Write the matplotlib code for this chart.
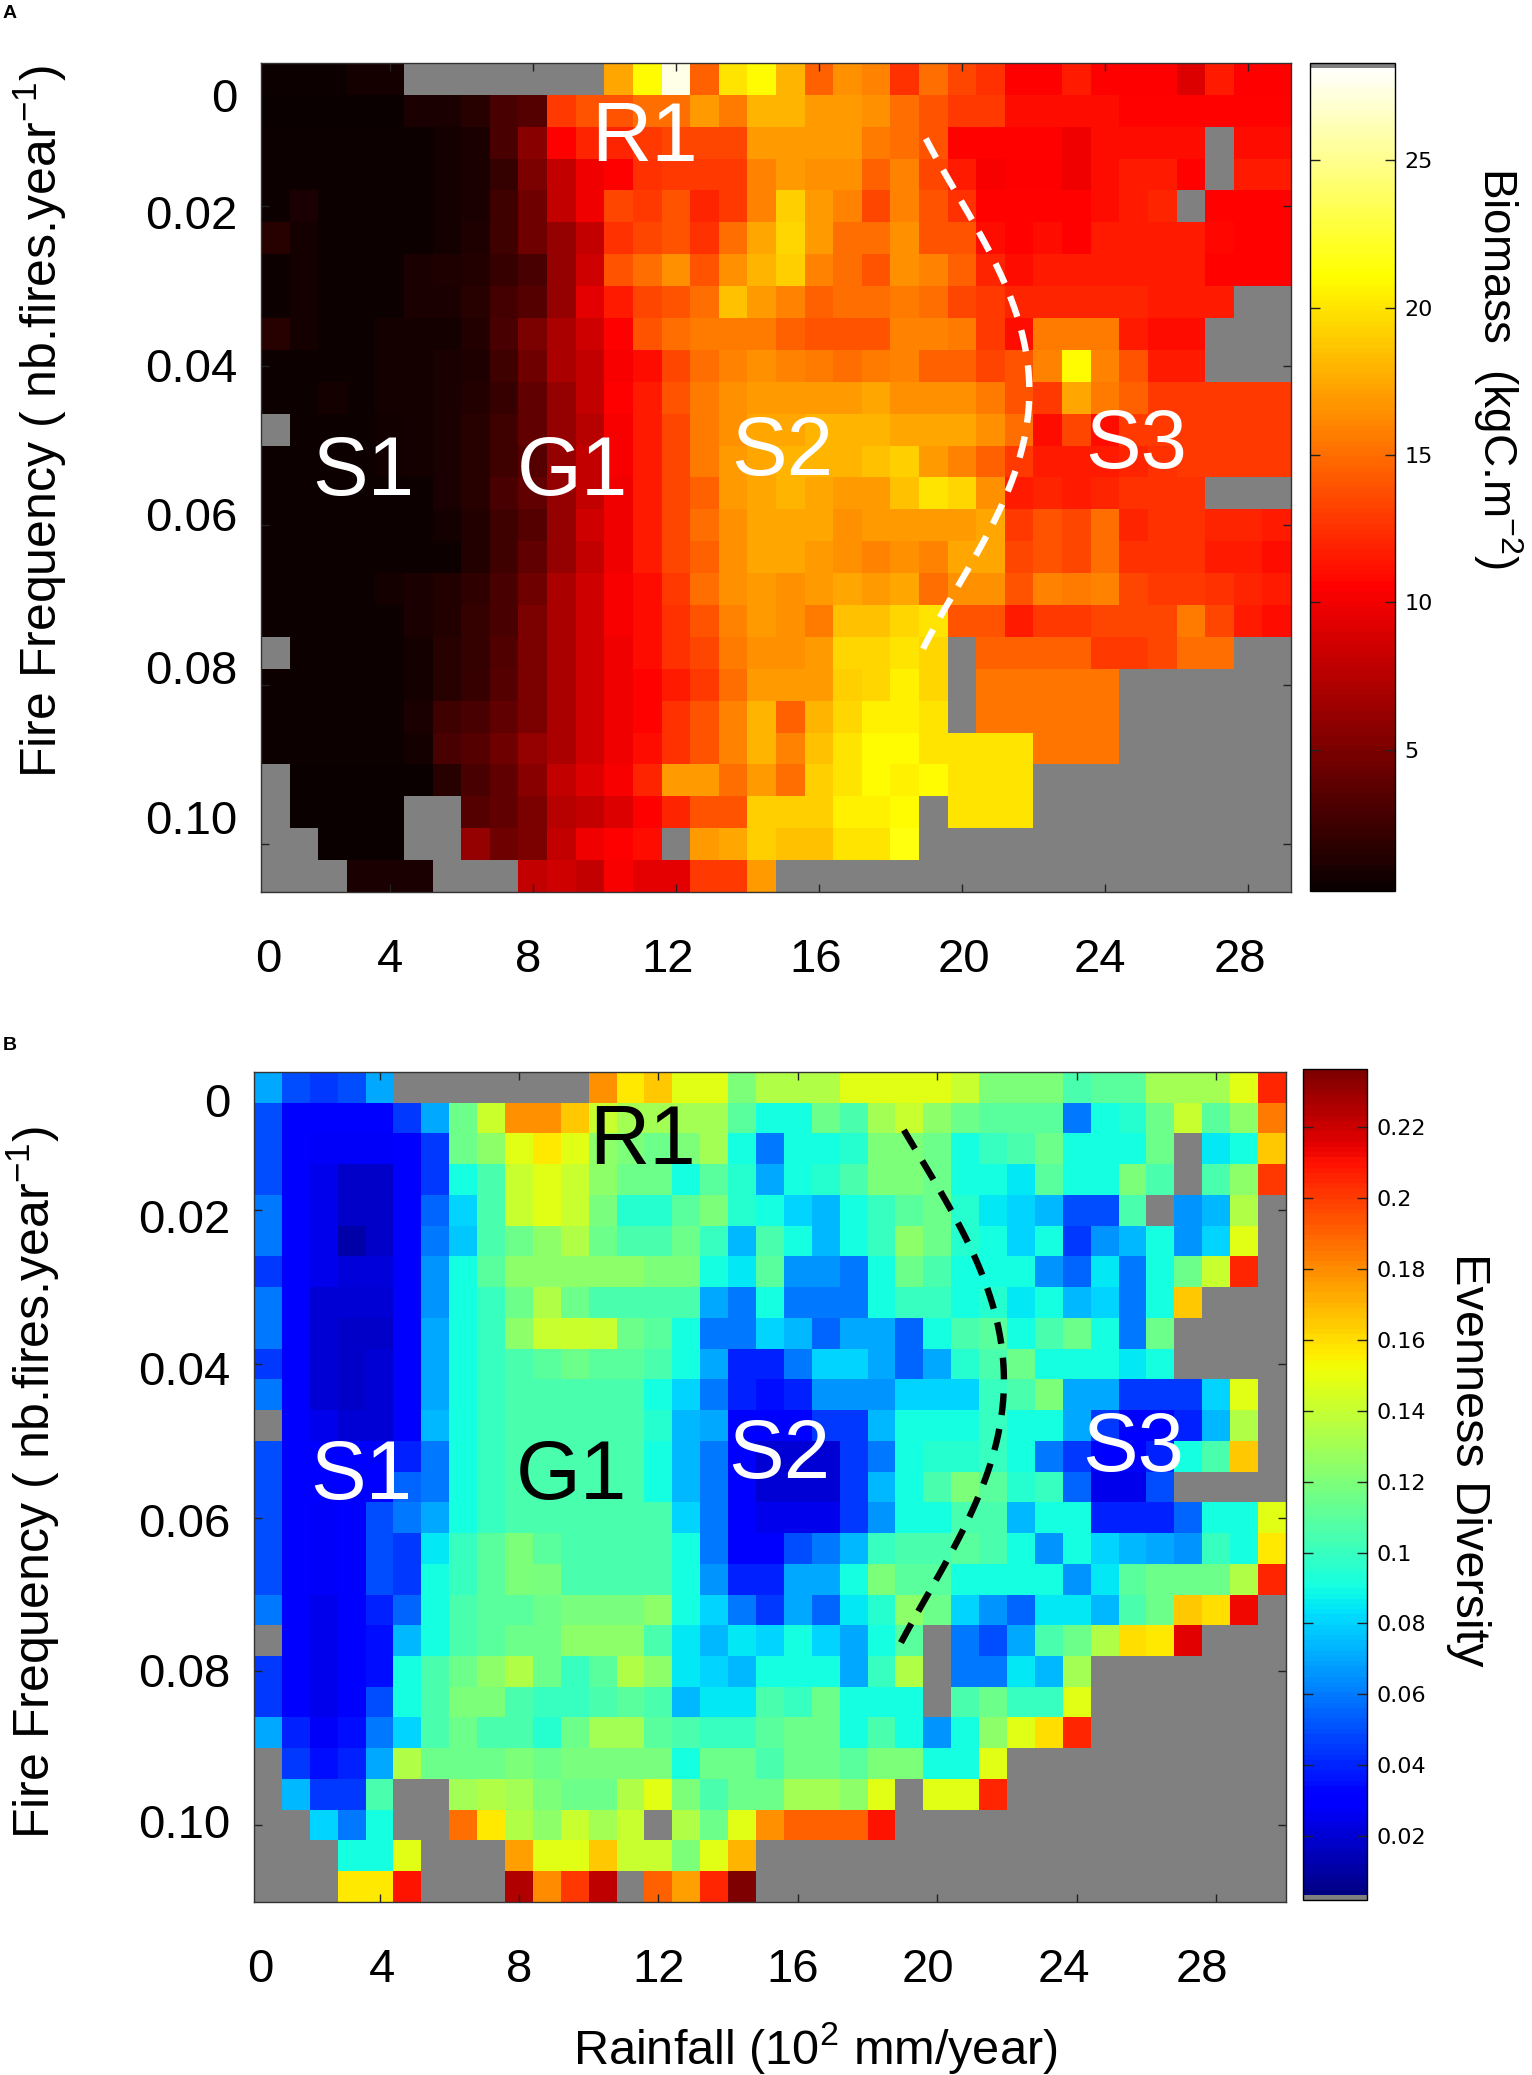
import numpy as np
import matplotlib
matplotlib.use("Agg")
import matplotlib.pyplot as plt
from matplotlib.colors import ListedColormap

plt.rcParams['font.family'] = ['Liberation Sans', 'DejaVu Sans']
plt.rcParams['mathtext.default'] = 'regular'

g = np.nan  # no data, drawn grey

biomass = [
    [.5,.5,.5,.9,.9,g,g,g,g,g,g,g,17.5, 21,27.5,14.5,20,21,18,14.5,16.5,16,12.5,15,13.5,12.5, 10.5,10.5,11.5,10.5,10.5,10.5,9,11.5,10.5,10.5],
    [.3,.3,.3,.3,.3,1,1,1.5,3,3.5,13,14,14, 15,15,17,15.5,18,18,17,17,16.5,15,14,13,13, 11,11,11,11,10.6,10.6,10.6,10.6,10.6,10.6],
    [.4,.4,.4,.4,.5,.5,.8,1,3,5.5,10.5,12,12, 13,13.5,13.5,13.5,17,17,17,17,15.5,15,14,10.6,10.6, 10.6,10.6,10,11,11,11,11,g,11,11],
    [.4,.4,.4,.4,.5,.5,.8,1,2,5,8,10,10.5, 12.5,13,13,13,16,17,16.5,16.5,14.5,16,13.5,11.5,10.3, 10.5,10.5,10,11,11.5,11.5,10.6,g,11.5,11.5],
    [.5,1,.5,.5,.5,.5,.8,1,2.5,4.5,8,10,13.5, 13,14,12,13,16,19,17,16,13.5,16,14,12.5,10.6, 10.6,10.6,10.6,11,11.5,12,g,10.6,10.6,10.6],
    [1.5,.8,.4,.4,.4,.5,.8,1.2,2.5,4.5,6,8,12.5, 13.5,14,12.5,15,17.5,19.5,17,15,15,16.5,14,14,11, 10.6,11,10.5,11.5,11.5,11.5,11.5,10.8,10.6,10.6],
    [.4,.8,.4,.4,.4,1,1.2,1.3,2.3,3,6,8.5,14, 15,16.5,14,16.5,18,19,16,15,14,16.5,16,14.5,12, 11,11.5,11.5,11.5,11.5,11.5,11.5,10.6,10.6,10.6],
    [.4,.8,.4,.4,.5,1,1,1.5,2.8,3.5,6,9.5,11.5, 13.5,14,15,18.5,17,16,14.5,15,15,15.5,15,13.5,13, 12,12,12,12,12,11.5,11.5,11.5,g,g],
    [1.5,.8,.4,.5,.8,.8,.8,1.3,3,5,7,8.5,10.5, 14,15,15.5,15.5,15.5,14.5,14,14,14,16,16,15.5,13, 11,15.5,15.5,15.5,11.5,11,11,g,g,g],
    [.5,.5,.4,.5,.8,.8,1,1.2,2.5,4.5,7,8,10.3, 11,13.5,15,16,16.5,16,15.5,15,15.5,16,14.5,14.5,13.3, 14,16,21,16,14,11.5,11.5,g,g,g],
    [.5,.5,.9,.5,.8,.8,1,1.4,2.3,4,6,8,10.5, 11.5,14,15.5,16.5,17,17,17,17,17.5,16.5,16.5,16.5,15.5, 14,13,17.5,15.5,14.5,13,13,13,13,13],
    [g,.5,.5,.5,.7,.8,1,1.5,2.5,4,6,7.5,10.3, 11.5,13.5,15.5,16.5,17.5,17.5,18,18,18,17.5,17.5,17.5,16.5, 15,11,13.5,11,13,13,13,13,13,13],
    [.4,.4,.4,.4,.6,.8,1,1.5,2.5,3.5,6,8,10.3, 11.5,13.5,15.5,17,17.5,18,18,18,18.5,19,17,16,14.5, 13,11.5,11.5,11.5,12,12.5,13,13,13,13],
    [.4,.4,.4,.4,.4,.5,1,1.5,3,4,6,8,10, 11.5,13.5,14.5,17,17.5,18,17.5,17,17,18.5,20,19.5,16.5, 11.5,12,11.5,12,12.5,12.5,12.5,g,g,g],
    [.4,.4,.4,.4,.4,.4,.8,1.3,2.5,3.5,6,8.5,10, 11.5,13.5,15,16.5,17.5,17.5,17.5,16.5,17,17,17,17,17.5, 13,14,13.5,15,12,12.5,12.5,12,12,11.5],
    [.5,.5,.5,.5,.5,.5,.5,1.3,2.5,4,6,8,10, 11.5,13.5,14.5,16.5,17.5,17.5,17,16.5,16,16.5,16,17.5,17.5, 13.5,14,13.5,15,12.5,12.5,12.5,11.5,11.5,11],
    [.4,.4,.4,.4,.8,1,1.3,1.8,3,4.5,7,8.5,10.3, 11,13,15,16.5,17,16.5,17,17.5,17,17.5,15,16.5,16.5, 14,16,15.5,16,13.5,13,13,12.5,12,11.5],
    [.4,.4,.4,.4,.4,1,1.3,2,3,5,7,8.5,10.3, 11,12.5,14,16,17,16.5,15.5,18.5,18.5,19.5,20,14,14, 11.5,13,13,13.5,13.5,13.5,15.5,13.5,11.5,11],
    [g,.4,.4,.4,.5,.8,1.5,2,3.2,5,7,8.5,10, 11,12.5,13.5,15.5,16.5,16.5,17,19.5,19.5,20,19.5,g,14.5, 14.5,14.5,14.5,13,13,13.5,15,15,g,g],
    [.4,.4,.4,.4,.5,.8,1.5,2.2,3.5,5,7,8.5,10, 10.6,11.5,13,15,17,17,17,19,19.5,20.5,19.5,g,15.4, 15.4,15.4,15.4,15.4,g,g,g,g,g,g],
    [.4,.4,.4,.4,.4,1,2.5,3,4,5,7,8.5,10, 10.6,12.5,14,16,18,14.5,18,19.5,20.5,20.5,20,g,15.4, 15.4,15.4,15.4,15.4,g,g,g,g,g,g],
    [.4,.4,.4,.4,.5,.8,3,3.5,4.5,6,7,8.5,10, 11,12.5,14,16,18,16,18.5,20,21,21,20,20,20, 20,15.4,15.4,15.4,g,g,g,g,g,g],
    [g,.3,.3,.3,.3,.3,1.5,3,4,5.5,8,9,10.3, 12,17,17,15,17,15,19,20,21,20.5,21,20,20, 20,g,g,g,g,g,g,g,g,g],
    [g,.2,.2,.2,.2,g,g,3.5,4,5,7.5,8,9, 10.5,12,14,14,19,19,19,20.5,20.5,21,g,20,20, 20,g,g,g,g,g,g,g,g,g],
    [g,g,.2,.2,.2,g,g,6,4.5,5,8,10,10.5, 11,g,17,17.5,19,18.5,18.5,20,20,21.5,g,g,g, g,g,g,g,g,g,g,g,g,g],
    [g,g,g,1,1,1,g,g,g,8,8.5,8,10.3, 9.5,9.5,13,13,17,g,g,g,g,g,g,g,g, g,g,g,g,g,g,g,g,g,g],
]

evenness = [
    [.07,.05,.045,.05,.07,g,g,g,g,g,g,g,.178,.157,.165,.148,.148,.12,.135,.135,.135,.148,.148,.148,.148,.14,.12,.12,.12,.105,.11,.11,.13,.13,.13,.148,.205],
    [.05,.03,.03,.03,.03,.045,.07,.115,.142,.178,.178,.165,.14,.13,.13,.13,.13,.11,.09,.09,.115,.105,.13,.14,.125,.115,.11,.11,.11,.06,.09,.095,.115,.14,.11,.125,.185],
    [.05,.03,.028,.028,.028,.03,.045,.115,.125,.148,.157,.148,.125,.12,.115,.12,.13,.09,.06,.09,.09,.095,.12,.12,.115,.09,.1,.105,.115,.09,.09,.09,.115,g,.085,.09,.165],
    [.05,.03,.025,.018,.018,.03,.045,.09,.105,.14,.148,.14,.125,.115,.115,.09,.11,.095,.07,.09,.095,.105,.12,.12,.115,.09,.09,.085,.11,.09,.09,.12,.105,g,.105,.125,.2],
    [.06,.03,.025,.018,.018,.03,.055,.08,.105,.14,.148,.14,.118,.095,.095,.11,.12,.095,.09,.08,.075,.09,.1,.11,.115,.095,.085,.08,.075,.05,.05,.105,g,.065,.075,.135,g],
    [.06,.03,.025,.012,.018,.03,.06,.078,.105,.115,.125,.135,.115,.105,.105,.115,.1,.075,.105,.09,.075,.09,.1,.125,.115,.095,.09,.08,.09,.045,.065,.075,.09,.065,.08,.148,g],
    [.045,.03,.025,.022,.022,.03,.065,.09,.11,.125,.125,.125,.125,.125,.12,.12,.09,.085,.11,.065,.065,.06,.09,.115,.105,.09,.09,.09,.065,.055,.085,.06,.09,.115,.14,.205,g],
    [.06,.03,.02,.02,.02,.03,.065,.09,.1,.115,.135,.115,.105,.105,.105,.105,.07,.06,.09,.06,.06,.06,.09,.1,.1,.09,.095,.085,.09,.075,.08,.06,.09,.165,g,g,g],
    [.06,.03,.02,.018,.018,.03,.07,.09,.1,.125,.14,.142,.14,.115,.11,.09,.06,.06,.08,.075,.055,.07,.07,.055,.09,.105,.11,.09,.105,.115,.09,.06,.115,g,g,g,g],
    [.045,.03,.02,.018,.02,.03,.07,.09,.1,.105,.11,.115,.11,.11,.105,.09,.07,.04,.04,.06,.08,.08,.07,.055,.07,.095,.105,.115,.09,.09,.09,.085,.09,g,g,g,g],
    [.06,.03,.02,.018,.02,.03,.07,.09,.1,.105,.105,.105,.105,.105,.09,.08,.06,.04,.035,.04,.065,.065,.065,.08,.08,.08,.1,.105,.12,.07,.07,.045,.045,.045,.08,.148,g],
    [g,.03,.025,.02,.02,.03,.075,.09,.1,.105,.105,.105,.105,.105,.095,.075,.07,.03,.03,.03,.045,.045,.075,.09,.09,.09,.1,.09,.09,.07,.045,.03,.03,.04,.075,.135,g],
    [.05,.03,.03,.03,.03,.04,.06,.09,.1,.105,.105,.105,.105,.105,.09,.075,.06,.03,.02,.02,.02,.045,.06,.09,.095,.095,.1,.09,.06,.045,.03,.03,.04,.09,.105,.165,g],
    [.05,.03,.03,.03,.03,.055,.06,.09,.1,.105,.105,.105,.105,.105,.09,.075,.06,.03,.02,.02,.02,.045,.075,.09,.105,.12,.11,.095,.1,.055,.025,.025,.05,g,g,g,g],
    [.05,.03,.028,.03,.05,.06,.07,.09,.1,.105,.105,.105,.105,.105,.105,.08,.06,.03,.025,.025,.025,.045,.065,.09,.09,.105,.105,.075,.09,.09,.04,.04,.04,.055,.09,.09,.148],
    [.05,.03,.028,.03,.05,.045,.085,.1,.11,.12,.11,.105,.105,.105,.105,.09,.06,.032,.03,.05,.06,.075,.1,.105,.105,.11,.105,.09,.065,.09,.08,.075,.07,.065,.1,.09,.157],
    [.05,.03,.028,.03,.05,.045,.09,.1,.11,.12,.118,.105,.105,.105,.105,.09,.065,.04,.04,.07,.07,.09,.12,.11,.11,.09,.09,.09,.09,.065,.085,.11,.115,.115,.115,.135,.205],
    [.06,.03,.025,.03,.04,.055,.09,.105,.11,.11,.115,.118,.118,.118,.125,.09,.08,.06,.045,.07,.055,.085,.095,.125,.115,.08,.065,.055,.085,.085,.075,.105,.115,.165,.16,.212,g],
    [g,.03,.025,.03,.035,.075,.09,.105,.11,.115,.115,.125,.125,.125,.105,.085,.075,.085,.08,.09,.08,.07,.09,.11,g,.06,.05,.07,.105,.115,.135,.16,.157,.215,g,g,g],
    [.045,.03,.025,.03,.035,.09,.105,.115,.125,.135,.115,.1,.11,.135,.125,.085,.08,.075,.09,.09,.09,.07,.1,.135,g,.06,.06,.085,.075,.13,g,g,g,g,g,g,g],
    [.045,.03,.025,.03,.05,.09,.105,.12,.12,.105,.1,.1,.105,.11,.105,.075,.085,.085,.105,.1,.115,.09,.09,.09,g,.105,.115,.1,.1,.148,g,g,g,g,g,g,g],
    [.07,.04,.028,.035,.06,.08,.105,.115,.105,.105,.095,.115,.13,.13,.11,.105,.1,.1,.11,.115,.115,.09,.105,.09,.065,.09,.125,.148,.16,.205,g,g,g,g,g,g,g],
    [g,.045,.035,.04,.07,.135,.115,.115,.115,.12,.115,.118,.118,.118,.118,.09,.115,.115,.105,.115,.115,.11,.12,.12,.09,.09,.148,g,g,g,g,g,g,g,g,g,g],
    [g,.075,.045,.045,.105,g,g,.13,.135,.13,.12,.115,.115,.135,.148,.12,.105,.115,.115,.13,.13,.125,.148,g,.148,.148,.205,g,g,g,g,g,g,g,g,g,g],
    [g,g,.08,.06,.09,g,g,.187,.157,.135,.125,.14,.13,.14,g,.135,.115,.148,.178,.19,.19,.19,.21,g,g,g,g,g,g,g,g,g,g,g,g,g,g],
    [g,g,g,.09,.09,.148,g,g,g,.175,.148,.148,.165,.14,.14,.12,.148,.17,g,g,g,g,g,g,g,g,g,g,g,g,g,g,g,g,g,g,g],
    [g,g,g,.157,.157,.21,g,g,g,.225,.18,.2,.222,g,.19,.175,.205,.236,g,g,g,g,g,g,g,g,g,g,g,g,g,g,g,g,g,g,g],
]

x_labels = ['0', '4', '8', '12', '16', '20', '24', '28']
y_labels = ['0', '0.02', '0.04', '0.06', '0.08', '0.10']
tick_cols = [4, 9, 14, 19, 24, 29, 34]
tick_rows = [4, 9, 14, 19, 24]

# the labels were placed by hand in the source figure, they sit off the ticks
x_pos_a = [-0.26, 4.0, 8.83, 13.7, 18.87, 24.07, 28.83, 33.7]
y_pos_a = [0.49, 4.16, 8.96, 13.66, 18.43, 23.16]
x_pos_b = [-0.26, 4.1, 9.02, 14.0, 18.8, 23.68, 28.55, 33.5]
y_pos_b = [0.42, 4.19, 9.12, 14.06, 18.96, 23.87]

# dashed boundary between the savanna states (row, column)
curve_rows_a = [1.87, 4.9, 7.0, 9.5, 11.1, 12.55, 15.1, 17.4, 18.0]
curve_cols_a = [22.75, 24.6, 25.8, 26.4, 26.2, 25.7, 24.4, 23.0, 22.5]
curve_rows_b = [1.39, 4.15, 6.7, 9.4, 10.9, 13.7, 15.9, 18.2]
curve_cols_b = [22.8, 24.6, 25.8, 26.46, 26.26, 25.2, 24.1, 22.6]

biomass_ticks = [5, 10, 15, 20, 25]
evenness_ticks = [0.02, 0.04, 0.06, 0.08, 0.1, 0.12, 0.14, 0.16, 0.18, 0.2, 0.22]
evenness_ticklabels = ['0.02', '0.04', '0.06', '0.08', '0.1', '0.12', '0.14', '0.16', '0.18', '0.2', '0.22']

W, H = 1532, 2075
GREY = '#808080'


def box(left, top, right, bottom):
    return [left / W, 1 - bottom / H, (right - left) / W, (bottom - top) / H]


def label(x, y, s, **kw):
    return fig.text(x / W, 1 - y / H, s, ha='center', va='center', **kw)


def panel(rect, cbar_rect, values, cmap, vmin, vmax, x_pos, y_pos, curve_rows, curve_cols, curve_color):
    ax = fig.add_axes(box(*rect))
    arr = np.array(values, dtype=float)
    im = ax.imshow(arr, cmap=cmap, vmin=vmin, vmax=vmax, aspect='auto', interpolation='nearest')

    # label positions can land on a tick, keep those minor ticks
    ax.xaxis.remove_overlapping_locs = False
    ax.yaxis.remove_overlapping_locs = False
    ax.set_xticks(tick_cols, labels=[])
    ax.set_yticks(tick_rows, labels=[])
    ax.tick_params(which='major', direction='in', length=6, width=1, top=True, right=True, color='#222222')
    ax.set_xticks(x_pos, labels=x_labels, minor=True)
    ax.set_yticks(y_pos, labels=y_labels, minor=True)
    ax.tick_params(which='minor', length=0, labelsize=34)
    ax.tick_params(axis='x', which='minor', pad=33)
    ax.tick_params(axis='y', which='minor', pad=17)
    for s in ax.spines.values():
        s.set_linewidth(1)
        s.set_color('#333333')

    coef = np.polyfit(curve_rows, curve_cols, 4)
    rows = np.linspace(curve_rows[0], curve_rows[-1], 100)
    ax.plot(np.polyval(coef, rows), rows, color=curve_color, lw=4.6, dashes=(3.4, 2.2))
    ax.set_xlim(-0.5, arr.shape[1] - 0.5)
    ax.set_ylim(arr.shape[0] - 0.5, -0.5)

    cax = fig.add_axes(box(*cbar_rect))
    cb = fig.colorbar(im, cax=cax)
    cax.tick_params(direction='in', length=7, width=1, left=True, right=True, color='#222222', pad=7)
    cb.outline.set_linewidth(1)
    return cb


hot_colors = plt.get_cmap('hot')(np.linspace(0, 1, 160))
hot_colors[-1] = matplotlib.colors.to_rgba(GREY)
hot_map = ListedColormap(hot_colors)
hot_map.set_bad(GREY)

jet_colors = plt.get_cmap('jet')(np.linspace(0, 1, 160))
jet_colors[0] = matplotlib.colors.to_rgba(GREY)
jet_map = ListedColormap(jet_colors)
jet_map.set_bad(GREY)

fig = plt.figure(figsize=(W / 100, H / 100), dpi=100)

cb_a = panel((261, 63, 1291, 892), (1310, 63, 1395, 891), biomass, hot_map, 0.2, 28.3,
             x_pos_a, y_pos_a, curve_rows_a, curve_cols_a, 'white')
cb_a.set_ticks(biomass_ticks)
cb_a.ax.tick_params(labelsize=16)

cb_b = panel((254, 1072, 1286, 1902), (1303, 1069, 1367, 1900), evenness, jet_map, 0.002, 0.2364,
             x_pos_b, y_pos_b, curve_rows_b, curve_cols_b, 'black')
cb_b.set_ticks(evenness_ticks, labels=evenness_ticklabels)
cb_b.ax.tick_params(labelsize=16)
for cb in (cb_a, cb_b):
    for t in cb.ax.get_yticklabels():
        t.set_fontfamily('DejaVu Sans')

# region labels
for x, y, s, c in [(363, 473, 'S1', 'white'), (572, 473, 'G1', 'white'), (782, 453, 'S2', 'white'),
                   (1136, 446, 'S3', 'white'), (645, 139, 'R1', 'white'),
                   (361, 1477, 'S1', 'white'), (571, 1477, 'G1', 'black'), (779, 1456, 'S2', 'white'),
                   (1133, 1449, 'S3', 'white'), (643, 1142, 'R1', 'black')]:
    label(x, y, s, color=c, fontsize=60)

label(40, 421, 'Fire Frequency ( nb.fires.year$^{-1}$)', rotation=90, fontsize=36)
label(33, 1482, 'Fire Frequency ( nb.fires.year$^{-1}$)', rotation=90, fontsize=36)
label(1498, 368, 'Biomass  (kgC.m$^{-2}$)', rotation=270, fontsize=33)
label(1469, 1460, 'Evenness Diversity', rotation=270, fontsize=35)
label(815, 2048, 'Rainfall (10$^2$ mm/year)', fontsize=35)
label(10, 13, 'A', fontsize=14, fontweight='bold')
label(10, 1045, 'B', fontsize=14, fontweight='bold')

fig.savefig('out.png', dpi=100)
